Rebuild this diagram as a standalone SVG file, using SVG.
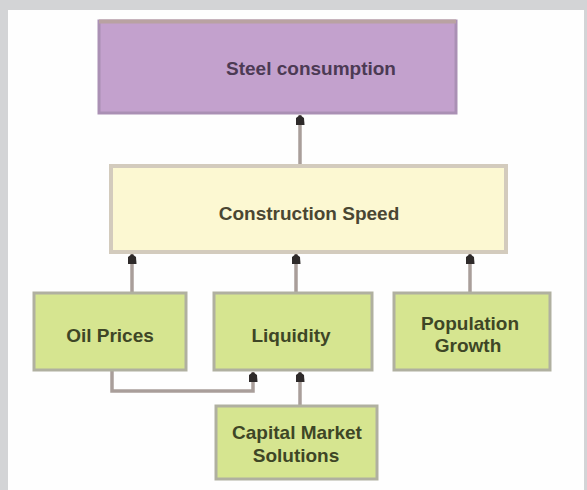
<svg xmlns="http://www.w3.org/2000/svg" width="587" height="490" viewBox="0 0 587 490">
  <defs>
    <marker id="ah" markerUnits="userSpaceOnUse" markerWidth="10" markerHeight="10" refX="10" refY="4.5" orient="auto">
      <path d="M0,0 L7,0.5 L10,4.5 L7,8.5 L0,9 z" fill="#2e2a2a"/>
    </marker>
    <style>
      .lbl { font-family: "Liberation Sans", Arial, sans-serif; font-weight: bold; font-size: 19px; text-anchor: middle; dominant-baseline: central; }
      .green rect { fill: #d6e590; stroke: #b0b0a0; stroke-width: 3; }
      .green text { fill: #3e4626; }
      .conn { fill: none; stroke: #a99e9a; stroke-width: 3.5; marker-end: url(#ah); }
    </style>
  </defs>
  <rect x="0" y="0" width="587" height="490" fill="#d3d4d6"/>
  <rect x="8" y="10" width="576" height="480" fill="#fefefe"/>

  <g id="connectors">
    <path class="conn" d="M300,165 L300,115"/>
    <path class="conn" d="M132,292 L132,254"/>
    <path class="conn" d="M296,292 L296,254"/>
    <path class="conn" d="M470,292 L470,254"/>
    <path class="conn" d="M112,370 L112,391 L253,391 L253,372"/>
    <path class="conn" d="M300,405 L300,372"/>
  </g>

  <g id="steel">
    <rect x="99" y="21" width="357" height="92" fill="#c3a1cd" stroke="#aa90b4" stroke-width="3"/>
    <line x1="99" y1="21.5" x2="456" y2="21.5" stroke="#b9a2a2" stroke-width="4"/>
    <text class="lbl" x="311" y="68" fill="#4c3a54">Steel consumption</text>
  </g>

  <g id="construction">
    <rect x="111" y="166" width="395" height="86" fill="#fcf8d2" stroke="#d3cbbd" stroke-width="4"/>
    <text class="lbl" x="309" y="213" fill="#4a4632">Construction Speed</text>
  </g>

  <g id="oil" class="green">
    <rect x="34" y="293" width="152" height="77"/>
    <text class="lbl" x="110" y="335">Oil Prices</text>
  </g>

  <g id="liquidity" class="green">
    <rect x="214" y="293" width="158" height="77"/>
    <text class="lbl" x="291" y="335">Liquidity</text>
  </g>

  <g id="population" class="green">
    <rect x="394" y="293" width="156" height="77"/>
    <text class="lbl" x="470" y="323">Population</text>
    <text class="lbl" x="468" y="345">Growth</text>
  </g>

  <g id="capital" class="green">
    <rect x="216" y="406" width="161" height="73"/>
    <text class="lbl" x="297" y="432">Capital Market</text>
    <text class="lbl" x="296" y="455">Solutions</text>
  </g>
</svg>
